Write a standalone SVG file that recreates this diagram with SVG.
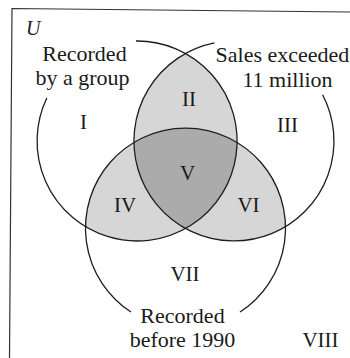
<svg xmlns="http://www.w3.org/2000/svg" width="350" height="358" viewBox="0 0 350 358">
<defs>
<style>
.arc{fill:none;stroke:#1e1e1e;stroke-width:1.3}
.lt{fill:#d6d6d6}
.dk{fill:#ababab}
</style>
<clipPath id="clipL"><circle cx="137" cy="141" r="100"/></clipPath>
<clipPath id="clipR"><circle cx="234" cy="141" r="100"/></clipPath>
</defs>
<rect width="350" height="358" fill="#fff"/>
<polyline points="9.5,358 12,8.5 350,12" fill="none" stroke="#333" stroke-width="1.2"/>
<g id="shading">
<g clip-path="url(#clipL)"><circle class="lt" cx="234" cy="141" r="100"/><circle class="lt" cx="185.5" cy="228" r="100"/></g>
<g clip-path="url(#clipR)"><circle class="lt" cx="185.5" cy="228" r="100"/></g>
<g clip-path="url(#clipL)"><g clip-path="url(#clipR)"><circle class="dk" cx="185.5" cy="228" r="100"/></g></g>
</g>
<g id="connectors">
<path id="set-group" class="arc" d="M136,41 A100,100 0 1 1 46.8,98"/>
<path id="set-sales" class="arc" d="M322.6,94.7 A100,100 0 1 1 214.4,42.9"/>
<path id="set-1990" class="arc" d="M131,312 A100,100 0 1 1 240,312"/>
</g>
<g font-family="'Liberation Serif', serif" fill="#1a1a1a" text-anchor="middle" font-size="22">
<g id="universe"><text x="26" y="35" font-size="20" font-style="italic" text-anchor="start">U</text></g>
<g id="label-group"><text x="84.5" y="61">Recorded</text><text x="82.5" y="85">by a group</text></g>
<g id="label-sales"><text x="282.5" y="62">Sales exceeded</text><text x="287.5" y="87">11 million</text></g>
<g id="label-1990"><text x="182.5" y="323">Recorded</text><text x="182.5" y="347">before 1990</text></g>
<g id="r1"><text x="83.5" y="129" font-size="21">I</text></g>
<g id="r2"><text x="189" y="106" font-size="21">II</text></g>
<g id="r3"><text x="287.5" y="132" font-size="21">III</text></g>
<g id="r4"><text x="125" y="212" font-size="21">IV</text></g>
<g id="r5"><text x="187.5" y="180" font-size="21">V</text></g>
<g id="r6"><text x="248.5" y="212" font-size="21">VI</text></g>
<g id="r7"><text x="185" y="281" font-size="21">VII</text></g>
<g id="r8"><text x="320.5" y="347" font-size="21">VIII</text></g>
</g>
</svg>
